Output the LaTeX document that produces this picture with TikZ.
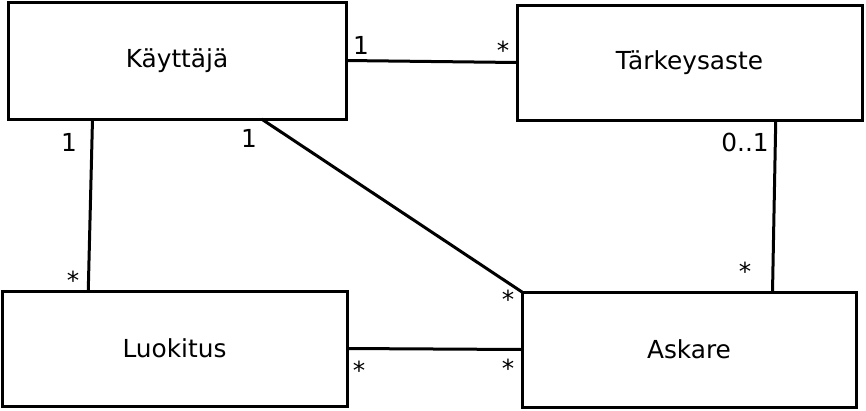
\documentclass[tikz,border=0pt]{standalone}
\usepackage{fontspec}
\setmainfont{DejaVu Sans}
\usetikzlibrary{calc}
\begin{document}
\begin{tikzpicture}[x=1pt,y=-1pt,
  cls/.style={draw, line width=3pt, inner sep=0pt, outer sep=0pt, font=\fontsize{24.8}{29}\selectfont},
  conn/.style={line width=3pt},
  mult/.style={font=\fontsize{24.8}{29}\selectfont, inner sep=0pt}]
\useasboundingbox (0,0) rectangle (866,410);
\node[cls, minimum width=338pt, minimum height=117pt] (k) at (177,60.5) {Käyttäjä};
\node[cls, minimum width=345pt, minimum height=115pt] (t) at (689.5,62.5) {Tärkeysaste};
\node[cls, minimum width=345pt, minimum height=115pt] (l) at (174.5,348.5) {Luokitus};
\node[cls, minimum width=334pt, minimum height=115pt] (a) at (689,349.5) {Askare};
\draw[conn] (k.east) -- (t.west);
\draw[conn] ($(k.south west)!0.25!(k.south east)$) -- ($(l.north west)!0.25!(l.north east)$);
\draw[conn] ($(k.south west)!0.75!(k.south east)$) -- (a.north west);
\draw[conn] ($(t.south west)!0.75!(t.south east)$) -- ($(a.north west)!0.75!(a.north east)$);
\draw[conn] (l.east) -- (a.west);
\node[mult] (m1) at (361,45) {1};
\node[mult] (m2) at (503,50) {*};
\node[mult] (m3) at (69,142) {1};
\node[mult] (m4) at (73,280) {*};
\node[mult] (m5) at (249,138) {1};
\node[mult] (m6) at (508,299) {*};
\node[mult] (m7) at (745,142) {0..1};
\node[mult] (m8) at (745,271) {*};
\node[mult] (m9) at (359,370) {*};
\node[mult] (m10) at (508,368) {*};
\end{tikzpicture}
\end{document}
